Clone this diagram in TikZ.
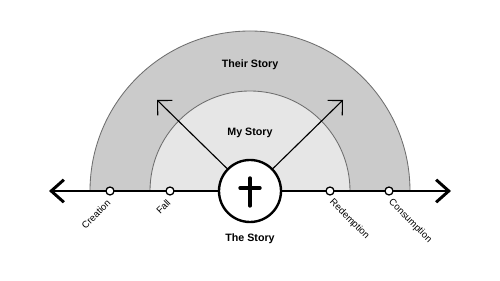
\documentclass[tikz,border=0pt]{standalone}
\usepackage{fontspec}
\setmainfont{Liberation Sans}
\usepackage{xcolor}
\usetikzlibrary{arrows.meta, positioning, calc}
\definecolor{outerband}{HTML}{CBCBCB}
\definecolor{innerband}{HTML}{E6E6E6}
\definecolor{bandline}{HTML}{6E6E6E}

\begin{document}
\begin{tikzpicture}[x=0.025cm, y=0.025cm,
    band/.style={draw=bandline, line width=0.6pt},
    era/.style={circle, draw=black, fill=white, line width=0.9pt, inner sep=0pt, minimum size=0.2cm},
    eralabel/.style={font=\fontsize{6.8}{8}\selectfont, inner sep=0pt},
    title/.style={font=\fontsize{7.6}{9}\selectfont\bfseries}]
      \useasboundingbox (0,0) rectangle (500,281);
      \fill[white] (0,0) rectangle (500,281);
      % two half bands
      \filldraw[band, fill=outerband] (90,90) arc[start angle=180, end angle=0, radius=160] -- cycle;
      \filldraw[band, fill=innerband] (150,90) arc[start angle=180, end angle=0, radius=100] -- cycle;
      \node[title] (their) at (250,216) {Their Story};
      \node[title] (mine) at (250,148) {My Story};
      % time line
      \coordinate (past) at (49,90);
      \coordinate (future) at (451,90);
      \draw[line width=2.1pt, {Straight Barb[length=9pt, width=16pt]}-{Straight Barb[length=9pt, width=16pt]}] (past) -- (future);
      \node[circle, draw=black, fill=white, line width=1.7pt, minimum size=1.55cm, inner sep=0pt] (story) at (250,90) {};
      \draw[line width=2.4pt, line cap=round] ([shift={(0,13)}]story.center) -- ([shift={(0,-15)}]story.center);
      \draw[line width=2.4pt, line cap=round] ([shift={(-10,3)}]story.center) -- ([shift={(10,3)}]story.center);
      \node[title, below=0.14cm of story] (thestory) {The Story};
      % arrows out of the story
      \coordinate (tipleft) at (157,181);
      \coordinate (tipright) at (343,181);
      \draw[line width=0.8pt, -{Straight Barb[length=7.5pt, width=15pt]}] (story) -- (tipleft);
      \draw[line width=0.8pt, -{Straight Barb[length=7.5pt, width=15pt]}] (story) -- (tipright);
      % eras
      \node[era] (creation) at (110,90) {};
      \node[era] (fall) at (170,90) {};
      \node[era] (redemption) at (330,90) {};
      \node[era] (consumption) at (389,90) {};
      \node[eralabel, rotate=45, anchor=east] at ([shift={(-1,-10)}]creation) {Creation};
      \node[eralabel, rotate=45, anchor=east] at ([shift={(-1,-10)}]fall) {Fall};
      \node[eralabel, rotate=-45, anchor=west] at ([shift={(1,-10)}]redemption) {Redemption};
      \node[eralabel, rotate=-45, anchor=west] at ([shift={(1,-10)}]consumption) {Consumption};
    \end{tikzpicture}
\end{document}
